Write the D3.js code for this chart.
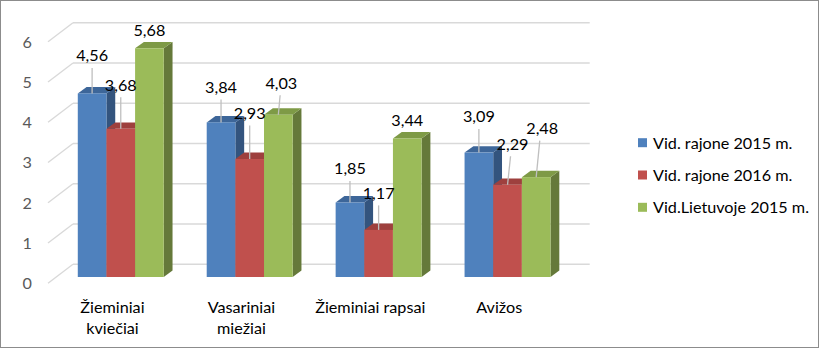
<!DOCTYPE html>
<html>
<head>
<meta charset="utf-8">
<script src="https://cdn.jsdelivr.net/npm/d3@7"></script>
<style>
  html, body { margin: 0; padding: 0; background: #fff; }
  svg { display: block; }
  text { font-family: Lato, "Open Sans", sans-serif; }
</style>
</head>
<body>
<svg id="chart" width="820" height="349"></svg>
<script>
// ---------- DATA ----------
const categories = ["Žieminiai\nkviečiai", "Vasariniai\nmiežiai", "Žieminiai rapsai", "Avižos"];
const seriesNames = ["Vid. rajone 2015 m.", "Vid. rajone 2016 m.", "Vid.Lietuvoje 2015 m."];
const rajone2015 = [4.56, 3.84, 1.85, 3.09];
const rajone2016 = [3.68, 2.93, 1.17, 2.29];
const lietuvoje2015 = [5.68, 4.03, 3.44, 2.48];
const yTicks = [0, 1, 2, 3, 4, 5, 6];

// ---------- STYLE / LAYOUT ----------
const seriesValues = [rajone2015, rajone2016, lietuvoje2015];
const colors = [
  { front: "#4F81BD", top: "#3D6699", side: "#33547E" },
  { front: "#C0504D", top: "#9E403E", side: "#873634" },
  { front: "#9BBB59", top: "#7E9A46", side: "#65793A" }
];
const FS = 16.2;
// manual label nudges (px) made in the original chart: [series][category] -> [dx, dy]
const labelNudge = [
  [[0, -20], [0, -17.5], [0, -16], [0, -18]],
  [[0, -26], [0, -28], [0, -19], [5, -23]],
  [[0, 0], [3, -14], [0, 0], [6, -31]]
];

const svg = d3.select("#chart");
const wallDX = 25, wallDY = -19;     // depth of the chart floor/wall
const barOffX = 8.3, barOffY = -6.3; // where bars sit in depth
const barDX = 8.8, barDY = -6.4;     // bar depth

const x = d3.scaleBand().domain(categories).range([48, 563.7])
  .paddingInner(1 / 3).paddingOuter(1 / 6);
const xs = d3.scaleBand().domain(d3.range(seriesNames.length)).range([0, x.bandwidth()]);
const y = d3.scaleLinear().domain([0, 6]).range([283.3, 41.7]);

// border
svg.append("rect").attr("x", 0.5).attr("y", 0.5).attr("width", 818).attr("height", 347)
  .attr("fill", "#fff").attr("stroke", "#8C8C8C").attr("stroke-width", 1);

// gridlines: back wall + side diagonals
const [x0, x1] = x.range();
const grid = svg.append("g").attr("stroke", "#D9D9D9").attr("stroke-width", 1.4).attr("fill", "none");
yTicks.forEach(t => {
  grid.append("line").attr("x1", x0 + wallDX).attr("x2", x1 + wallDX + 1)
    .attr("y1", y(t) + wallDY).attr("y2", y(t) + wallDY);
  grid.append("line").attr("x1", x0).attr("x2", x0 + wallDX)
    .attr("y1", y(t)).attr("y2", y(t) + wallDY);
});

// y axis labels
svg.append("g").selectAll("text").data(yTicks).join("text")
  .attr("x", 32).attr("y", d => y(d)).attr("dy", "0.36em")
  .attr("text-anchor", "end").attr("font-size", FS).attr("fill", "#595959")
  .text(d => d);

// bars
const barsG = svg.append("g");
seriesValues.forEach((vals, si) => {
  vals.forEach((v, ci) => {
    const bx = x(categories[ci]) + xs(si) + barOffX;
    const w = xs.bandwidth();
    const yb = y(0) + barOffY;
    const yt = y(v) + barOffY;
    const g = barsG.append("g");
    g.append("path").attr("fill", colors[si].side)
      .attr("d", `M${bx + w},${yt} L${bx + w + barDX},${yt + barDY} L${bx + w + barDX},${yb + barDY} L${bx + w},${yb} Z`);
    g.append("path").attr("fill", colors[si].top)
      .attr("d", `M${bx},${yt} L${bx + barDX},${yt + barDY} L${bx + w + barDX},${yt + barDY} L${bx + w},${yt} Z`);
    g.append("rect").attr("x", bx).attr("y", yt).attr("width", w).attr("height", yb - yt)
      .attr("fill", colors[si].front);
  });
});

// data labels with leader lines
const fmt = v => d3.format(".2f")(v).replace(".", ",");
const labG = svg.append("g");
seriesValues.forEach((vals, si) => {
  vals.forEach((v, ci) => {
    const cx = x(categories[ci]) + xs(si) + barOffX + xs.bandwidth() / 2;
    const yt = y(v) + barOffY;
    const [ndx, ndy] = labelNudge[si][ci];
    const lx = cx + ndx, ly = yt - 18 + ndy;
    if (ndy < -8) {
      labG.append("line").attr("x1", lx - ndx * 0.4).attr("y1", ly + 12.5)
        .attr("x2", cx).attr("y2", yt)
        .attr("stroke", "#BFBFBF").attr("stroke-width", 1.3);
    }
    labG.append("text").attr("x", lx).attr("y", ly).attr("dy", "0.36em")
      .attr("text-anchor", "middle").attr("font-size", FS).attr("fill", "#000")
      .text(fmt(v));
  });
});

// category labels
const catG = svg.append("g");
categories.forEach(c => {
  const lines = c.split("\n");
  const t = catG.append("text").attr("x", x(c) + x.bandwidth() / 2).attr("y", 306.7)
    .attr("text-anchor", "middle").attr("font-size", FS).attr("fill", "#000");
  lines.forEach((ln, i) => {
    t.append("tspan").attr("x", x(c) + x.bandwidth() / 2).attr("dy", i === 0 ? "0.36em" : 21.3).text(ln);
  });
});

// legend
const leg = svg.append("g");
seriesNames.forEach((n, i) => {
  const cy = 142.7 + i * 32.3;
  leg.append("rect").attr("x", 638).attr("y", cy - 4.5).attr("width", 9).attr("height", 9)
    .attr("fill", colors[i].front);
  leg.append("text").attr("x", 653).attr("y", cy).attr("dy", "0.36em")
    .attr("font-size", FS).attr("fill", "#000").text(n);
});
</script>
</body>
</html>
